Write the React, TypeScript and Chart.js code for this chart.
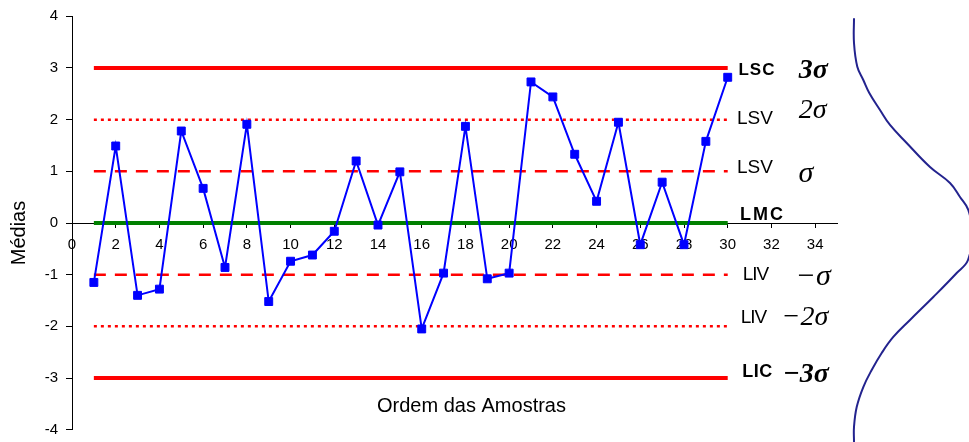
import { useEffect, useRef } from 'react';
import { Chart, registerables } from 'chart.js';

Chart.register(...registerables);

// ---- data ----
const samples = [1, 2, 3, 4, 5, 6, 7, 8, 9, 10, 11, 12, 13, 14, 15, 16, 17, 18, 19, 20, 21, 22, 23, 24, 25, 26, 27, 28, 29, 30];
const means = [-1.15, 1.49, -1.4, -1.28, 1.78, 0.67, -0.86, 1.91, -1.52, -0.74, -0.62, -0.16, 1.2, -0.04, 0.99, -2.05, -0.97, 1.87, -1.08, -0.97, 2.73, 2.44, 1.33, 0.42, 1.95, -0.42, 0.79, -0.42, 1.58, 2.82];

const limitValues = [3, 2, 1, 0, -1, -2, -3];
const limitNames = ['LSC', 'LSV', 'LSV', 'LMC', 'LIV', 'LIV', 'LIC'];
const sigmaLabels = ['3σ', '2σ', 'σ', '', '−σ', '−2σ', '−3σ'];
const limitFrom = 1;
const limitTo = 30;

const yAxisTitle = 'Médias';
const xAxisTitle = 'Ordem das Amostras';

// bell curve: level (in Médias units) and horizontal extent
const curveLevels = [3.965, 3.487, 3.029, 2.772, 2.521, 2.192, 1.901, 1.553, 1.088, 0.779, 0.508, 0.257, -0.169, -0.711, -0.962, -1.427, -1.872, -2.2, -2.51, -2.839, -3.168, -3.555, -3.942, -4.232];
const curveDensity = [1, 1, 4.3, 10.3, 16.3, 27, 37, 53.7, 77, 97, 107, 115.3, 119, 115, 103.7, 80.3, 57, 40.3, 28.7, 18.7, 10.3, 3.7, 1, 1];

// ---- styles ----
const FONT = '"Liberation Sans", Arial, sans-serif';
const SERIF = '"Liberation Serif", "Times New Roman", serif';

const limitStyle = (v: number) => {
  if (v === 0) return { color: '#008000', width: 4, dash: [] as number[] };
  if (Math.abs(v) === 3) return { color: '#ff0000', width: 4, dash: [] as number[] };
  if (Math.abs(v) === 2) return { color: '#ff0000', width: 2.5, dash: [3, 4] };
  return { color: '#ff0000', width: 2.5, dash: [12, 9] };
};

const nameFont = [
  `bold 17px ${FONT}`,
  `19px ${FONT}`,
  `19px ${FONT}`,
  `bold 18px ${FONT}`,
  `19px ${FONT}`,
  `19px ${FONT}`,
  `bold 18px ${FONT}`,
];
const nameSpacing = ['1px', '0px', '0px', '2px', '-1px', '-1px', '0.5px'];
const nameDx = [29.2, 27.2, 27.2, 34.7, 27.7, 25.7, 29.7];
const nameDy = [6.8, 4.1, 1.4, -3.3, 5.1, -3.6, -1.3];
const sigmaFont = [
  `italic bold 28px ${SERIF}`,
  `italic 28px ${SERIF}`,
  `italic 30px ${SERIF}`,
  `italic 28px ${SERIF}`,
  `italic 30px ${SERIF}`,
  `italic 28px ${SERIF}`,
  `italic bold 28px ${SERIF}`,
];
const sigmaDx = [85.5, 85, 78.2, 0, 85.5, 77.2, 78.2];
const sigmaDy = [9.8, -1.9, 10.4, 0, 10.1, -1.6, 3.5];

const labelsPlugin = {
  id: 'controlLabels',
  afterDatasetsDraw(chart: any) {
    const { ctx, scales } = chart;
    const xs = scales.x;
    const ys = scales.y;
    const xEnd = xs.getPixelForValue(limitTo);
    ctx.save();
    ctx.fillStyle = '#000';
    ctx.textAlign = 'center';
    ctx.textBaseline = 'alphabetic';
    limitValues.forEach((v, i) => {
      const py = ys.getPixelForValue(v);
      ctx.font = nameFont[i];
      (ctx as any).letterSpacing = nameSpacing[i];
      ctx.fillText(limitNames[i], xEnd + nameDx[i], py + nameDy[i]);
      (ctx as any).letterSpacing = '0px';
      if (sigmaLabels[i]) {
        ctx.font = sigmaFont[i];
        ctx.fillText(sigmaLabels[i], xEnd + sigmaDx[i], py + sigmaDy[i]);
      }
    });
    // axis titles
    ctx.font = `20px ${FONT}`;
    ctx.fillText(xAxisTitle, 471.5, 411.7);
    ctx.save();
    ctx.translate(19.5, 233);
    ctx.rotate(-Math.PI / 2);
    ctx.textBaseline = 'middle';
    ctx.fillText(yAxisTitle, 0, 0);
    ctx.restore();
    ctx.restore();
  },
};

export default function App() {
  const mainRef = useRef<HTMLCanvasElement | null>(null);
  const curveRef = useRef<HTMLCanvasElement | null>(null);

  useEffect(() => {
    document.body.style.margin = '0';
    const limitSets = limitValues.map((v) => {
      const s = limitStyle(v);
      return {
        data: [
          { x: limitFrom, y: v },
          { x: limitTo, y: v },
        ],
        showLine: true,
        borderColor: s.color,
        borderWidth: s.width,
        borderDash: s.dash,
        borderCapStyle: 'butt',
        pointRadius: 0,
        fill: false,
      };
    });

    const main = new Chart(mainRef.current as HTMLCanvasElement, {
      type: 'scatter',
      data: {
        datasets: [
          {
            data: samples.map((s, i) => ({ x: s, y: means[i] })),
            showLine: true,
            borderColor: '#0000ff',
            borderWidth: 2,
            pointStyle: 'rect',
            pointRadius: 5.6,
            pointBackgroundColor: '#0000ff',
            pointBorderColor: '#0000ff',
            pointBorderWidth: 1,
            tension: 0,
          },
          ...limitSets,
        ] as any,
      },
      options: {
        responsive: false,
        animation: false,
        events: [],
        layout: { padding: { left: 0, right: 132, top: 16.3, bottom: 12.3 } },
        plugins: { legend: { display: false }, tooltip: { enabled: false }, title: { display: false } },
        scales: {
          x: {
            type: 'linear',
            position: { y: 0 } as any,
            min: 0,
            max: 35,
            ticks: {
              stepSize: 2,
              includeBounds: false,
              autoSkip: false,
              maxRotation: 0,
              color: '#000',
              padding: 9,
              font: { family: FONT, size: 15 },
            },
            grid: { drawOnChartArea: false, drawTicks: true, tickLength: 4, color: '#000' },
            border: { display: true, color: '#000', width: 1 },
          },
          y: {
            type: 'linear',
            position: 'left',
            min: -4,
            max: 4,
            ticks: {
              stepSize: 1,
              color: '#000',
              padding: 8,
              font: { family: FONT, size: 15 },
            },
            grid: { drawOnChartArea: false, drawTicks: true, tickLength: 6, color: '#000' },
            border: { display: true, color: '#000', width: 1 },
            afterFit: (scale: any) => {
              scale.width = 72;
              scale.paddingTop = 0;
              scale.paddingBottom = 0;
            },
          },
        },
      } as any,
      plugins: [labelsPlugin],
    });

    const curve = new Chart(curveRef.current as HTMLCanvasElement, {
      type: 'scatter',
      data: {
        datasets: [
          {
            data: curveLevels.map((v, i) => ({ x: curveDensity[i], y: v })),
            showLine: true,
            borderColor: '#23238e',
            borderWidth: 2,
            pointRadius: 0,
            tension: 0.4,
          },
        ] as any,
      },
      options: {
        responsive: false,
        animation: false,
        events: [],
        layout: { padding: 0 },
        plugins: { legend: { display: false }, tooltip: { enabled: false } },
        scales: {
          x: { type: 'linear', display: false, min: -13, max: 116 },
          y: { type: 'linear', display: false, min: -4.232, max: 4.319 },
        },
      } as any,
    });

    return () => {
      main.destroy();
      curve.destroy();
    };
  }, []);

  return (
    <div style={{ position: 'fixed', left: 0, top: 0, width: 969, height: 442, background: '#fff', overflow: 'hidden' }}>
      <canvas ref={mainRef} width={969} height={442} style={{ position: 'absolute', left: 0, top: 0 }} />
      <canvas ref={curveRef} width={129} height={442} style={{ position: 'absolute', left: 840, top: 0 }} />
    </div>
  );
}
